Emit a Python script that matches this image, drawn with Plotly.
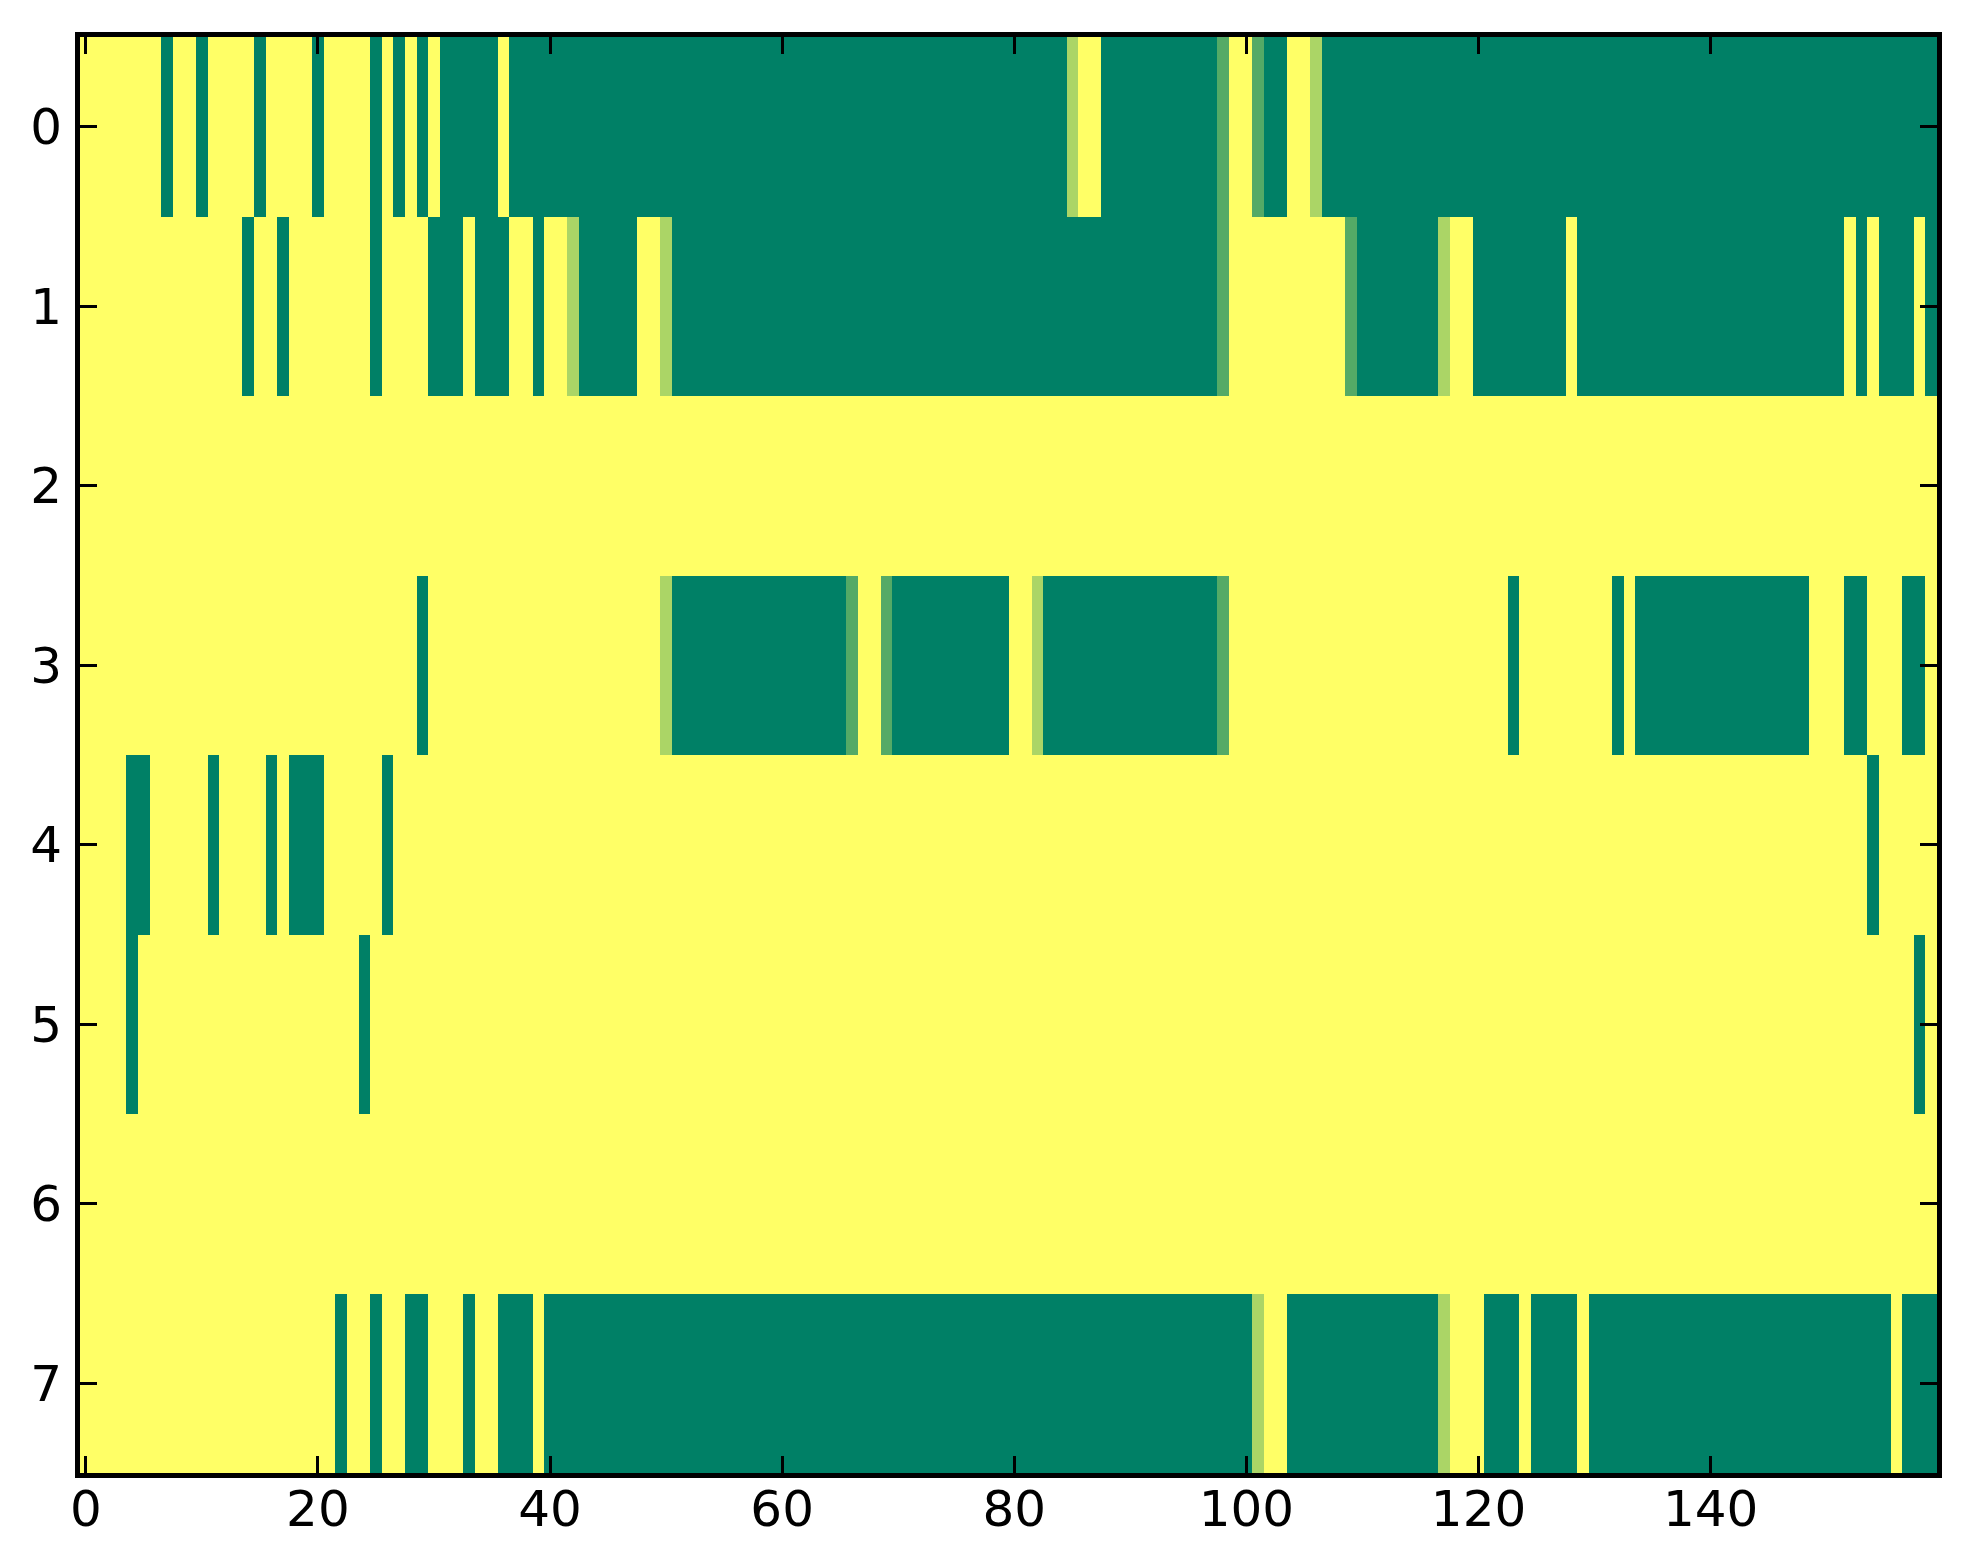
import numpy as np
import plotly.graph_objects as go

n_rows = 8
n_cols = 160

# cells that are not fully yellow (value 1)
# green = 0, partial values shown in lighter greens
row0_green = [7, 10, 15, 20, 25, 27, 29, (31, 35), (37, 84), (88, 97), (102, 103), (107, 159)]
row0_mid = {85: 0.67, 106: 0.67, 98: 0.33, 101: 0.33}

row1_green = [14, 17, 25, (30, 32), (34, 36), 39, (43, 47), (51, 97), (110, 116),
              (120, 127), (129, 151), 153, (155, 157), 159]
row1_mid = {42: 0.67, 50: 0.67, 117: 0.67, 98: 0.33, 109: 0.33}

row2_green = []
row2_mid = {}

row3_green = [29, (51, 65), (70, 79), (83, 97), 123, 132, (134, 148), (152, 153), (157, 158)]
row3_mid = {50: 0.67, 82: 0.67, 66: 0.33, 69: 0.33, 98: 0.33}

row4_green = [(4, 5), 11, 16, (18, 20), 26, 154]
row4_mid = {}

row5_green = [4, 24, 158]
row5_mid = {}

row6_green = []
row6_mid = {}

row7_green = [22, 25, (28, 29), 33, (36, 38), (40, 100), (104, 116), (121, 123),
              (125, 128), (130, 155), (157, 159)]
row7_mid = {101: 0.67, 117: 0.67}

rows_green = [row0_green, row1_green, row2_green, row3_green,
              row4_green, row5_green, row6_green, row7_green]
rows_mid = [row0_mid, row1_mid, row2_mid, row3_mid,
            row4_mid, row5_mid, row6_mid, row7_mid]

z = np.ones((n_rows, n_cols))
for r, (greens, mids) in enumerate(zip(rows_green, rows_mid)):
    for g in greens:
        if isinstance(g, tuple):
            z[r, g[0]:g[1] + 1] = 0.0
        else:
            z[r, g] = 0.0
    for c, v in mids.items():
        z[r, c] = v

# matplotlib "summer" colormap
summer = [[0.0, "rgb(0,128,102)"], [1.0, "rgb(255,255,102)"]]

fig = go.Figure(go.Heatmap(
    z=z,
    x=list(range(n_cols)),
    y=list(range(n_rows)),
    colorscale=summer,
    zmin=0, zmax=1,
    showscale=False,
))

axis_style = dict(
    showgrid=False, zeroline=False,
    showline=True, linecolor="black", linewidth=5, mirror="ticks",
    ticks="inside", ticklen=17, tickwidth=3, tickcolor="black",
    tickfont=dict(family="DejaVu Sans", size=50, color="black"),
)

fig.update_xaxes(range=[-0.5, 159.5], tickmode="linear", tick0=0, dtick=20,
                 ticklabelstandoff=-12, **axis_style)
fig.update_yaxes(range=[7.5, -0.5], tickmode="linear", tick0=0, dtick=1,
                 ticklabelstandoff=3, **axis_style)

fig.update_layout(
    width=1963, height=1564,
    margin=dict(l=72, r=34, t=29, b=99),
    paper_bgcolor="white", plot_bgcolor="white",
)

fig.write_html("out.html")
